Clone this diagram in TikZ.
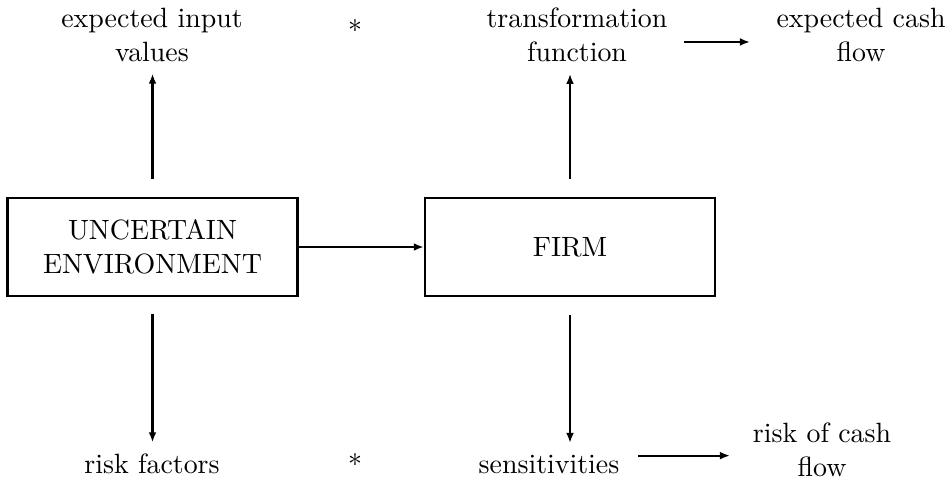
\documentclass[tikz,border=0pt]{standalone}
\usetikzlibrary{arrows.meta}
\begin{document}
\begin{tikzpicture}[x=0.3586pt,y=-0.3586pt,
  lbl/.style={align=center,inner sep=0pt,font=\fontsize{10}{12.3}\selectfont},
  box/.style={draw,line width=0.85pt,minimum width=104pt,minimum height=35pt,align=center,inner sep=0pt,font=\fontsize{10}{12.3}\selectfont},
  arr/.style={line width=0.8pt,-{Latex[length=3.6pt,width=2.8pt]}}]
\useasboundingbox (0,0) rectangle (951,480);
\node[box] (env) at (152.5,247) {UNCERTAIN\\ENVIRONMENT};
\node[box] (firm) at (570,247) {FIRM};
\node[lbl] (eiv) at (152,35) {expected input\\values};
\node[lbl] (tf) at (577,35) {transformation\\function};
\node[lbl] (ecf) at (861,35) {expected cash\\flow};
\node[lbl] (rf) at (152,464) {risk factors};
\node[lbl] (sens) at (549,464) {sensitivities};
\node[lbl] (rcf) at (822,450) {risk of cash\\flow};
\node[lbl] (s1) at (355,30) {*};
\node[lbl] (s2) at (355,464) {*};
\coordinate (sa) at ([yshift=3pt]sens.east);
\coordinate (ta) at ([yshift=-2.5pt]tf.east);
\draw[arr] (env.east) -- (firm.west);
\draw[arr,shorten <=6.5pt,shorten >=4pt] (env.north) -- (env.north |- eiv.south);
\draw[arr,shorten <=6.5pt,shorten >=4pt] (firm.north) -- (firm.north |- tf.south);
\draw[arr,shorten <=6pt,shorten >=4pt] (env.south) -- (env.south |- rf.north);
\draw[arr,shorten <=6.5pt,shorten >=4pt] (firm.south) -- (firm.south |- sens.north);
\draw[arr,shorten <=5.7pt,shorten >=9.3pt] (ta) -- (ecf.west |- ta);
\draw[arr,shorten <=6.5pt,shorten >=8pt] (sa) -- (rcf.west |- sa);
\end{tikzpicture}
\end{document}
